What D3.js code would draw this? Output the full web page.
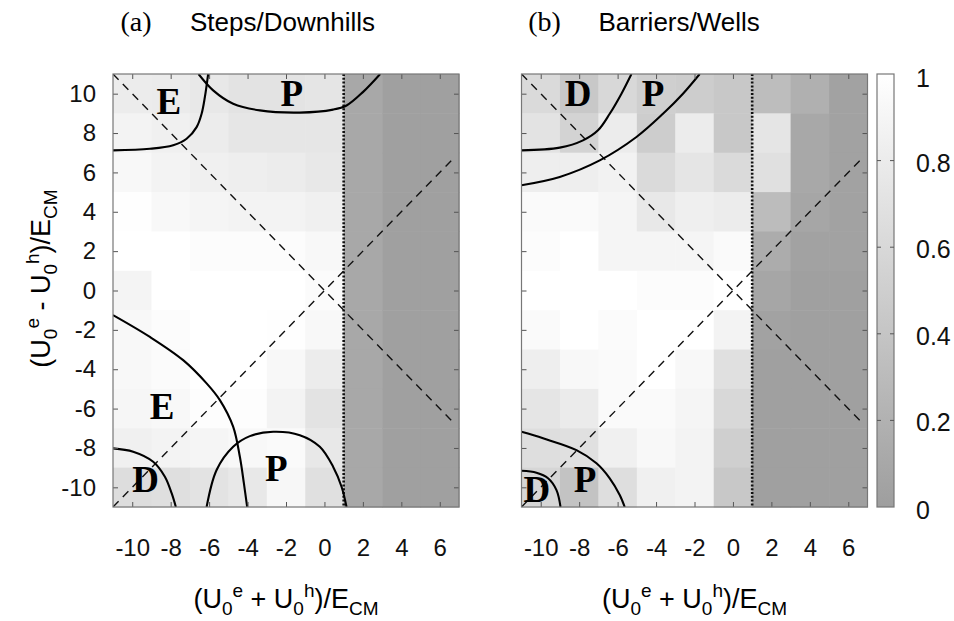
<!DOCTYPE html>
<html><head><meta charset="utf-8">
<script src="https://cdn.jsdelivr.net/npm/d3@7"></script>
<style>
body{margin:0;background:#fff;}
text{font-family:"Liberation Sans",Arial,sans-serif;}
</style></head>
<body><svg id="c" width="954" height="621"></svg>
<script>
// ---- data ----
const xCenters = [-10,-8,-6,-4,-2,0,2,4,6];
const yCenters = [10,8,6,4,2,0,-2,-4,-6,-8,-10];
const xTicks = [-10,-8,-6,-4,-2,0,2,4,6];
const yTicks = [-10,-8,-6,-4,-2,0,2,4,6,8,10];
const cbTicks = [0,0.2,0.4,0.6,0.8,1];
// panel (a) Steps/Downhills, rows y=10..-10, cols x=-10..6
const valuesA = [
 [0.80,0.79,0.76,0.71,0.71,0.73,0.10,0.02,0.02],
 [0.88,0.85,0.80,0.74,0.74,0.74,0.10,0.02,0.02],
 [0.93,0.88,0.85,0.82,0.80,0.76,0.10,0.02,0.02],
 [0.99,0.93,0.90,0.88,0.88,0.85,0.10,0.02,0.02],
 [1.00,1.00,0.97,0.97,0.97,0.93,0.10,0.02,0.02],
 [0.89,1.00,1.00,1.00,1.00,0.96,0.10,0.02,0.02],
 [0.93,0.97,1.00,1.00,0.99,0.93,0.10,0.02,0.02],
 [0.93,0.96,1.00,1.00,0.93,0.80,0.10,0.02,0.02],
 [0.91,0.93,0.98,0.98,0.88,0.71,0.10,0.02,0.02],
 [0.85,0.88,0.90,0.93,0.95,0.76,0.10,0.02,0.02],
 [0.65,0.67,0.71,0.76,0.92,0.68,0.10,0.02,0.02]
];
// panel (b) Barriers/Wells
const valuesB = [
 [0.62,0.43,0.60,0.51,0.48,0.43,0.32,0.19,0.04],
 [0.71,0.55,0.80,0.48,0.80,0.43,0.73,0.10,0.04],
 [0.82,0.82,0.87,0.62,0.73,0.62,0.68,0.10,0.04],
 [0.95,0.95,0.90,0.76,0.84,0.80,0.31,0.08,0.04],
 [0.97,1.00,0.90,0.90,0.90,0.95,0.14,0.04,0.04],
 [1.00,1.00,1.00,0.97,0.97,1.00,0.08,0.02,0.02],
 [0.95,1.00,0.96,1.00,1.00,0.88,0.04,0.02,0.02],
 [0.82,0.93,0.95,1.00,0.93,0.68,0.02,0.02,0.02],
 [0.73,0.79,0.95,0.95,0.90,0.60,0.02,0.02,0.02],
 [0.66,0.68,0.85,0.93,0.88,0.51,0.02,0.02,0.02],
 [0.58,0.38,0.66,0.85,0.88,0.43,0.02,0.02,0.02]
];
// diagonal guide lines (x range), vertical dotted line position
const diagRange = [-11, 6.7];
const dottedX = 1;
// solid contour curves [x,y] in data units
const curvesA = [
 [[-11,7.12],[-9.08,7.2],[-7.87,7.38],[-7.17,7.71],[-6.65,8.3],[-6.39,8.98],[-6.22,9.83],[-6.05,11]],
 [[-6.55,11],[-5.79,10.17],[-4.75,9.49],[-3.36,9.15],[-1.28,9.04],[0.45,9.19],[1.15,9.4],[2.0,10.08],[2.9,11]],
 [[-11,-1.25],[-9.08,-2.36],[-7.35,-3.54],[-6.13,-4.72],[-5.44,-5.57],[-4.75,-6.92],[-4.40,-8.45],[-4.19,-9.8],[-4.02,-11]],
 [[-6.13,-11],[-5.61,-9.12],[-4.75,-7.94],[-3.88,-7.40],[-2.67,-7.18],[-1.28,-7.35],[-0.24,-7.94],[0.45,-8.95],[0.89,-9.97],[1.15,-11]],
 [[-11,-8.02],[-9.95,-8.19],[-8.91,-8.70],[-8.30,-9.46],[-7.95,-10.3],[-7.73,-11]]
];
const curvesB = [
 [[-11,7.12],[-9.01,7.26],[-7.80,7.63],[-7.02,8.14],[-6.41,8.98],[-5.80,10.0],[-5.28,11]],
 [[-11,5.35],[-9.01,5.77],[-6.93,6.61],[-5.02,7.80],[-3.64,8.98],[-2.60,10.0],[-1.73,11]],
 [[-11,-7.18],[-9.88,-7.51],[-8.14,-8.11],[-7.10,-8.78],[-6.41,-9.54],[-5.89,-10.39],[-5.63,-11]],
 [[-11,-9.16],[-10.22,-9.26],[-9.62,-9.54],[-9.18,-10.14],[-8.97,-11]]
];
// region labels [text, x, y]
const labelsA = [["E",-8.1,9.6],["P",-1.7,10.0],["E",-8.45,-5.9],["D",-9.3,-9.6],["P",-2.5,-9.05]];
const labelsB = [["D",-8.05,10.0],["P",-4.15,10.0],["D",-10.2,-10.1],["P",-7.7,-9.6]];
const panelTitles = [["(a)","Steps/Downhills"],["(b)","Barriers/Wells"]];

// ---- layout ----
const svg = d3.select("#c");
const plotTop = 74, plotBottom = 507;
const panels = [
 {left:113, right:459, values:valuesA, curves:curvesA, labels:labelsA, ylabels:true},
 {left:521.5, right:867.5, values:valuesB, curves:curvesB, labels:labelsB, ylabels:false}
];
const gray = d3.scaleLinear().domain([0,1]).range(["rgb(158,158,158)","rgb(255,255,255)"]);
const y = d3.scaleLinear().domain([-11,11]).range([plotBottom, plotTop]);
const tickFmt = d => String(d);

function axisTitle(sel, sign) {
  sel.append("tspan").text("(U");
  sel.append("tspan").attr("dy",7).style("font-size","19px").text("0");
  sel.append("tspan").attr("dy",-18).style("font-size","19px").text("e");
  sel.append("tspan").attr("dy",11).text(" " + sign + " U");
  sel.append("tspan").attr("dy",7).style("font-size","19px").text("0");
  sel.append("tspan").attr("dy",-18).style("font-size","19px").text("h");
  sel.append("tspan").attr("dy",11).text(")/E");
  sel.append("tspan").attr("dy",7).style("font-size","19px").text("CM");
}

panels.forEach((p, pi) => {
  const x = d3.scaleLinear().domain([-11,7]).range([p.left, p.right]);
  const g = svg.append("g");
  const clipId = "clip"+pi;
  svg.append("clipPath").attr("id", clipId).append("rect")
    .attr("x", p.left).attr("y", plotTop).attr("width", p.right-p.left).attr("height", plotBottom-plotTop);
  const cells = [];
  yCenters.forEach((yc, i) => xCenters.forEach((xc, j) => cells.push({xc, yc, v:p.values[i][j]})));
  g.append("g").selectAll("rect").data(cells).join("rect")
    .attr("x", d => x(d.xc-1)).attr("y", d => y(d.yc+1))
    .attr("width", d => x(d.xc+1)-x(d.xc-1)+0.5).attr("height", d => y(d.yc-1)-y(d.yc+1)+0.5)
    .attr("fill", d => gray(d.v));
  const inner = g.append("g").attr("clip-path", `url(#${clipId})`);
  // dashed diagonals
  const line = d3.line().x(d => x(d[0])).y(d => y(d[1]));
  inner.append("path").attr("d", line(diagRange.map(t => [t, t])))
    .attr("stroke","#111").attr("stroke-width",1.4).attr("stroke-dasharray","8,6").attr("fill","none");
  inner.append("path").attr("d", line(diagRange.map(t => [t, -t])))
    .attr("stroke","#111").attr("stroke-width",1.4).attr("stroke-dasharray","8,6").attr("fill","none");
  // dotted vertical
  inner.append("line").attr("x1", x(dottedX)).attr("x2", x(dottedX)).attr("y1", plotTop).attr("y2", plotBottom)
    .attr("stroke","#111").attr("stroke-width",2.6).attr("stroke-dasharray","2,1.8");
  // contours
  const cl = d3.line().x(d => x(d[0])).y(d => y(d[1])).curve(d3.curveCatmullRom.alpha(0.5));
  inner.selectAll("path.ct").data(p.curves).join("path").attr("class","ct")
    .attr("d", cl).attr("stroke","#000").attr("stroke-width",2.1).attr("fill","none");
  // labels
  inner.selectAll("text.lab").data(p.labels).join("text").attr("class","lab")
    .attr("x", d => x(d[1])).attr("y", d => y(d[2]))
    .attr("text-anchor","middle").attr("dominant-baseline","central")
    .style("font-family","'Liberation Serif','DejaVu Serif',serif").style("font-weight","bold")
    .style("font-size","37px").text(d => d[0]);
  // axes
  const ax = (axis, tr) => {
    const a = g.append("g").attr("transform", tr).call(axis);
    a.select(".domain").remove();
    a.selectAll(".tick line").attr("stroke","#555");
    a.selectAll(".tick text").style("font-size","24px").attr("fill","#111")
      .style("font-family","'Liberation Sans',Arial,sans-serif");
    return a;
  };
  ax(d3.axisBottom(x).tickValues(xTicks).tickSize(-5).tickPadding(32).tickFormat(tickFmt), `translate(0,${plotBottom})`);
  ax(d3.axisTop(x).tickValues(xTicks).tickSize(-5).tickFormat(""), `translate(0,${plotTop})`);
  ax(d3.axisLeft(y).tickValues(yTicks).tickSize(-5).tickPadding(17).tickFormat(p.ylabels ? tickFmt : ""), `translate(${p.left},0)`);
  ax(d3.axisRight(y).tickValues(yTicks).tickSize(-5).tickFormat(""), `translate(${p.right},0)`);
  // frame
  g.append("rect").attr("x", p.left).attr("y", plotTop).attr("width", p.right-p.left).attr("height", plotBottom-plotTop)
    .attr("fill","none").attr("stroke","#777").attr("stroke-width",1.2);
  // titles
  const cx = (p.left+p.right)/2;
  svg.append("text").attr("x", p.left+23).attr("y", 31).attr("text-anchor","middle")
    .style("font-family","'Liberation Serif','DejaVu Serif',serif").style("font-size","28px").text(panelTitles[pi][0]);
  svg.append("text").attr("x", p.left+77).attr("y", 31)
    .style("font-size","26px").text(panelTitles[pi][1]);
  // x-axis title
  const xt = svg.append("text").attr("x", cx).attr("y", 608).attr("text-anchor","middle").style("font-size","27px");
  axisTitle(xt, "+");
});

// y-axis title
const yt = svg.append("text").attr("transform", `translate(50,${(plotTop+plotBottom)/2 - 12}) rotate(-90)`)
  .attr("text-anchor","middle").style("font-size","27px");
axisTitle(yt, "-");

// colorbar
const cbL = 877, cbR = 894;
const cy = d3.scaleLinear().domain([0,1]).range([plotBottom, plotTop]);
const defs = svg.append("defs");
const grad = defs.append("linearGradient").attr("id","cbg").attr("x1",0).attr("x2",0).attr("y1",1).attr("y2",0);
grad.selectAll("stop").data([0,1]).join("stop").attr("offset", d => d).attr("stop-color", d => gray(d));
svg.append("rect").attr("x", cbL).attr("y", plotTop).attr("width", cbR-cbL).attr("height", plotBottom-plotTop)
  .attr("fill","url(#cbg)").attr("stroke","#777").attr("stroke-width",1.2);
const cbTickIn = cbTicks.filter(t => t > 0 && t < 1);
svg.append("g").selectAll("line.l").data(cbTickIn).join("line")
  .attr("x1", cbL).attr("x2", cbL+4).attr("y1", d => cy(d)).attr("y2", d => cy(d)).attr("stroke","#555");
svg.append("g").selectAll("line.r").data(cbTickIn).join("line")
  .attr("x1", cbR-4).attr("x2", cbR).attr("y1", d => cy(d)).attr("y2", d => cy(d)).attr("stroke","#555");
svg.append("g").selectAll("text").data(cbTicks).join("text")
  .attr("x", 916).attr("y", d => cy(d) + (d===1 ? 4 : d===0 ? 3 : 2)).attr("dominant-baseline","central")
  .style("font-size","25px").attr("fill","#111").text(d => d3.format("~g")(d));
</script></body></html>
